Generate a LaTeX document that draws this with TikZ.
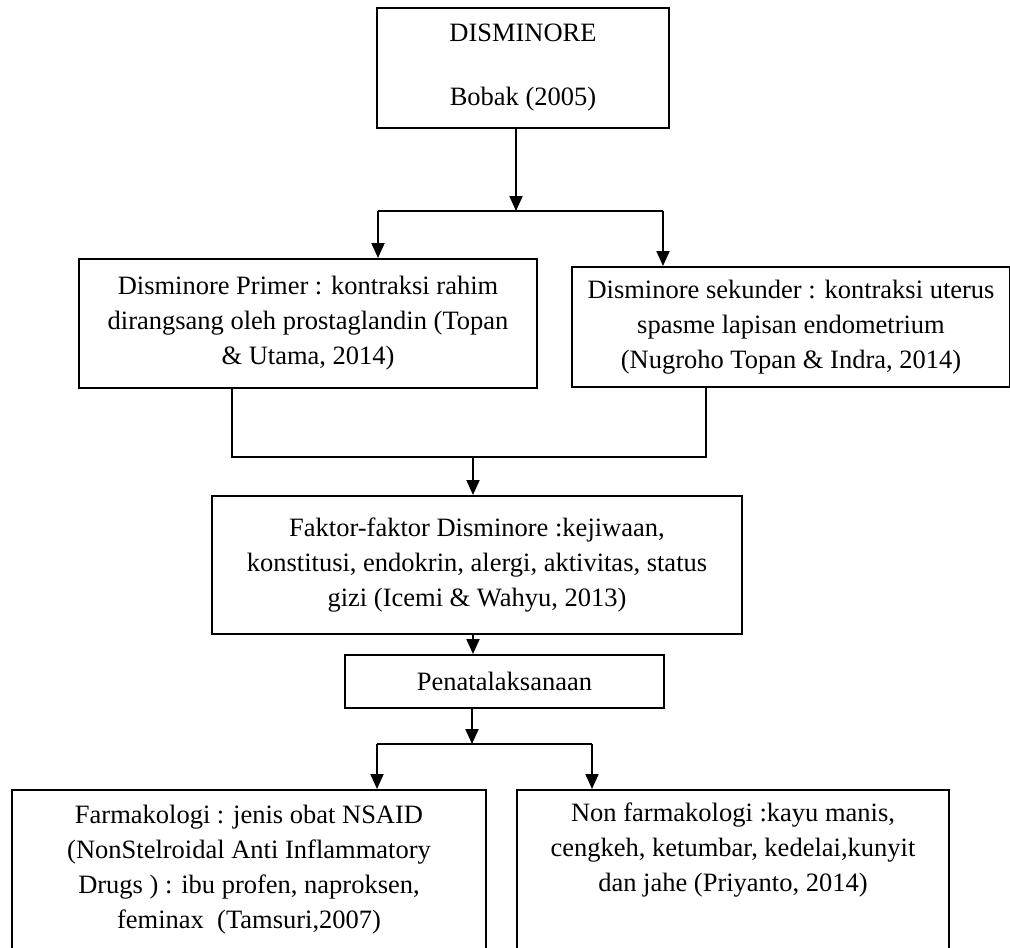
\documentclass[tikz,border=0pt]{standalone}
\usepackage{fontspec}
\setmainfont{Liberation Serif}
\usepackage{tikz}
\usetikzlibrary{
  arrows.meta,
  positioning,
  calc
}
\tikzset{
  dsnode/.style={
    draw, line width=1pt, align=center, inner sep=2pt,
    font=\fontsize{13.25}{17.5}\selectfont
  },
  dsbox/.style={dsnode, fill=white},
  dsline/.style={line width=1pt, black},
  dsflow/.style={dsline, -{Triangle[length=7.5pt, width=6.5pt]}}
}

\begin{document}
\begin{tikzpicture}
  \useasboundingbox (0pt,0pt) rectangle (505pt,-473.5pt);
  % judul
  \node[dsbox, minimum width=146pt, minimum height=60pt] (dism) at (261.5pt,-34pt)
   {DISMINORE\\[14.5pt]Bobak (2005)};
  % dua jenis disminore
  \node[dsbox, minimum width=229pt, minimum height=64.5pt] (primer) at (154pt,-161.75pt)
   {Disminore Primer : kontraksi rahim\\
     dirangsang oleh prostaglandin (Topan\\
     \& Utama, 2014)};
  \node[dsbox, minimum width=219pt, minimum height=60pt, below right=4pt and 16.5pt of primer.north east] (sekunder)
   {Disminore sekunder : kontraksi uterus\\
     spasme lapisan endometrium\\
     (Nugroho Topan \& Indra, 2014)};
  \node[dsbox, minimum width=265pt, minimum height=69pt] (faktor) at (238.5pt,-282.5pt)
   {Faktor-faktor Disminore :kejiwaan,\\
     konstitusi, endokrin, alergi, aktivitas, status\\
     gizi (Icemi \& Wahyu, 2013)};
  \node[dsbox, minimum width=159.5pt, minimum height=26.5pt] (penat) at (252.25pt,-340.75pt)
   {Penatalaksanaan};
  % penatalaksanaan
  \node[dsbox, minimum width=237pt, minimum height=80pt] (farma) at (124.5pt,-435pt)
   {Farmakologi : jenis obat NSAID\\
     (NonStelroidal Anti Inflammatory\\
     Drugs ) : ibu profen, naproksen,\\
     feminax\ \ (Tamsuri,2007)};
  \node[dsbox, minimum width=216pt, minimum height=80pt, right=14.5pt of farma.north east, anchor=north west] (nonfarma)
   {Non farmakologi :kayu manis,\\
     cengkeh, ketumbar, kedelai,kunyit\\
     dan jahe (Priyanto, 2014)\\
     \strut};
  % cabang atas
  \coordinate (splitA) at (258pt,-105.5pt);
  \coordinate (splitAL) at (189pt,-105.5pt);
  \coordinate (splitAR) at (331.5pt,-105.5pt);
  \draw[dsflow] (dism.south -| splitA) -- (splitA);
  \draw[dsline] (splitAL) -- (splitAR);
  \draw[dsflow] (splitAL) -- (splitAL |- primer.north);
  \draw[dsflow] (splitAR) -- (splitAR |- sekunder.north);
  % gabungan
  \coordinate (joinL) at (116pt,-228.5pt);
  \coordinate (joinR) at (353pt,-228.5pt);
  \coordinate (joinM) at (236.5pt,-228.5pt);
  \draw[dsline] (primer.south -| joinL) -- (joinL) -- (joinR) -- (sekunder.south -| joinR);
  \draw[dsflow] (joinM) -- (joinM |- faktor.north);
  \draw[dsflow] (faktor.south -| joinM) -- (joinM |- penat.north);
  % cabang bawah
  \coordinate (splitB) at (236pt,-372pt);
  \coordinate (splitBL) at (188.5pt,-372pt);
  \coordinate (splitBR) at (296pt,-372pt);
  \draw[dsflow] (penat.south -| splitB) -- (splitB);
  \draw[dsline] (splitBL) -- (splitBR);
  \draw[dsflow] (splitBL) -- (splitBL |- farma.north);
  \draw[dsflow] (splitBR) -- (splitBR |- nonfarma.north);
\end{tikzpicture}
\end{document}
